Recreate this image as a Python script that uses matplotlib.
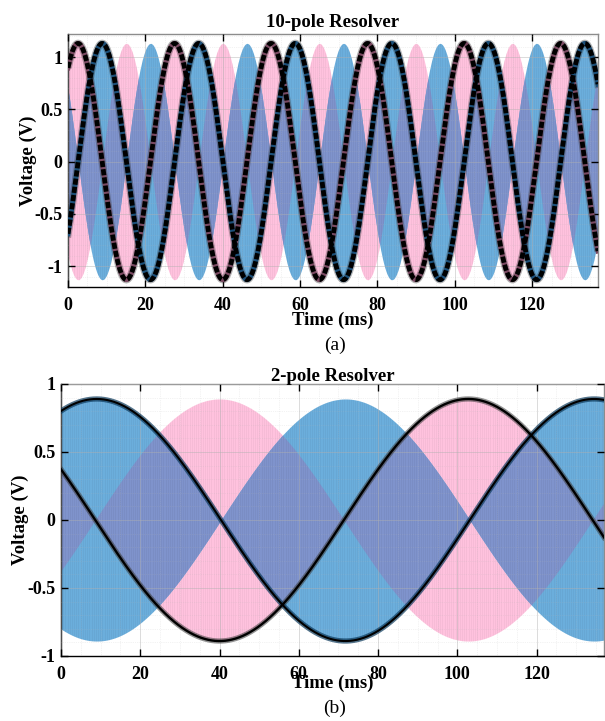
import numpy as np
import matplotlib
matplotlib.use("Agg")
import matplotlib.pyplot as plt
from matplotlib.ticker import MultipleLocator

# ---------------- data ----------------
# envelope model parameters (amplitude V, electrical period ms, time of positive peak ms)
top_title = "10-pole Resolver"
top_amp = 1.13
top_period = 24.95
top_sin_peak = 2.6      # pink (sin) envelope positive peak
top_cos_peak = 8.85     # blue (cos) envelope positive peak

bot_title = "2-pole Resolver"
bot_amp = 0.89
bot_period = 125.5
bot_sin_peak = 40.0 - 125.5 / 2   # pink envelope: trough at 40 ms
bot_cos_peak = 9.0                # blue envelope: peak at 9 ms

t_max = 137.0
xticks = [0, 20, 40, 60, 80, 100, 120]
top_yticks = [-1, -0.5, 0, 0.5, 1]
top_yticklabels = ["-1", "-0.5", "0", "0.5", "1"]
bot_yticks = [-1, -0.5, 0, 0.5, 1]
bot_yticklabels = ["-1", "-0.5", "0", "0.5", "1"]
xlabel = "Time (ms)"
ylabel = "Voltage (V)"
sub_labels = ["(a)", "(b)"]

# ---------------- style ----------------
PINK = "#FFC2DE"
BLUE = "#6BAEDC"
OVER = "#7F93CC"
SERIF = ["Liberation Serif", "DejaVu Serif"]
plt.rcParams["font.family"] = SERIF

fig = plt.figure(figsize=(6.05, 7.21), dpi=100)
ax1 = fig.add_axes([68 / 605, 1 - 287 / 721, 530 / 605, 253 / 721])
ax2 = fig.add_axes([61 / 605, 1 - 656 / 721, 543 / 605, 272 / 721])

t = np.linspace(0, t_max, 6000)


def draw(ax, amp, period, p_peak, c_peak, ylim, marker_style):
    s = amp * np.cos(2 * np.pi * (t - p_peak) / period)
    c = amp * np.cos(2 * np.pi * (t - c_peak) / period)
    sa, ca = np.abs(s), np.abs(c)
    m = np.minimum(sa, ca)
    ax.fill_between(t, -sa, sa, color=PINK, lw=0, zorder=1)
    ax.fill_between(t, -ca, ca, color=BLUE, lw=0, zorder=1.1)
    ax.fill_between(t, -m, m, color=OVER, lw=0, zorder=1.2)
    # faint carrier stripes
    xs = np.arange(0, t_max, 0.55)
    sv = amp * np.abs(np.cos(2 * np.pi * (xs - p_peak) / period))
    cv = amp * np.abs(np.cos(2 * np.pi * (xs - c_peak) / period))
    mv = np.maximum(sv, cv)
    ax.vlines(xs, -mv, mv, colors="#000000", alpha=0.05, lw=0.5, zorder=1.3)
    if marker_style:
        ax.plot(t, s, color="#2a2a2a", lw=5.4, alpha=0.35, zorder=3, solid_capstyle="butt")
        ax.plot(t, s, color="#7a4a62", lw=3.6, zorder=3.1)
        ax.plot(t, s, color="black", lw=3.4, zorder=3.2, ls=(0, (1.3, 0.45)), dash_capstyle="butt")
        ax.plot(t, c, color="#2a2a2a", lw=5.4, alpha=0.35, zorder=3)
        ax.plot(t, c, color="#1c4f78", lw=3.6, zorder=3.1)
        ax.plot(t, c, color="black", lw=3.4, zorder=3.2, ls=(0, (1.3, 0.45)), dash_capstyle="butt")
    else:
        ax.plot(t, s, color="#3a3a3a", lw=3.8, alpha=0.55, zorder=3)
        ax.plot(t, s, color="black", lw=1.7, zorder=3.2)
        ax.plot(t, c, color="#0d3a5c", lw=3.8, alpha=0.7, zorder=3)
        ax.plot(t, c, color="black", lw=1.5, zorder=3.2)
    ax.set_xlim(0, t_max)
    ax.set_ylim(*ylim)


draw(ax1, top_amp, top_period, top_sin_peak, top_cos_peak, (-1.2, 1.22), True)
draw(ax2, bot_amp, bot_period, bot_sin_peak, bot_cos_peak, (-1.0, 1.0), False)

for ax, yt, ytl, title, tpad in [(ax1, top_yticks, top_yticklabels, top_title, 5),
                                 (ax2, bot_yticks, bot_yticklabels, bot_title, 2)]:
    ax.set_xticks(xticks)
    ax.set_xticklabels([str(v) for v in xticks])
    ax.set_yticks(yt)
    ax.set_yticklabels(ytl)
    ax.xaxis.set_minor_locator(MultipleLocator(5))
    ax.yaxis.set_minor_locator(MultipleLocator(0.1))
    ax.tick_params(which="major", direction="in", length=5, width=1.0,
                   top=True, right=True, labelsize=13)
    ax.tick_params(axis="x", which="major", pad=7)
    ax.tick_params(axis="y", which="major", pad=4)
    ax.tick_params(which="minor", length=0)
    for lab in ax.get_xticklabels() + ax.get_yticklabels():
        lab.set_fontweight("bold")
    ax.grid(which="major", color="#b0b0b0", lw=0.7, alpha=0.45, zorder=5)
    ax.grid(which="minor", color="#b8b8b8", lw=0.5, ls=":", alpha=0.35, zorder=5)
    ax.set_axisbelow(False)
    for sp in ["left", "bottom"]:
        ax.spines[sp].set_color("black")
        ax.spines[sp].set_linewidth(1.0)
    for sp in ["top", "right"]:
        ax.spines[sp].set_color("#8c8c8c")
        ax.spines[sp].set_linewidth(1.0)
    ax.set_title(title, fontsize=13.5, fontweight="bold", pad=tpad)
    ax.set_ylabel(ylabel, fontsize=13.5, fontweight="bold", va="center")
    ax.set_xlabel(xlabel, fontsize=13.5, fontweight="bold", va="center")

# y label centres: x = 28 px (top) and 20 px (bottom) from the figure's left edge
ax1.yaxis.set_label_coords(-(68 - 28) / 530, 0.5)
ax2.yaxis.set_label_coords(-(61 - 20) / 543, 0.5)
# x label centres: top at 320 px, bottom at 683 px (figure pixels from top)
ax1.xaxis.set_label_coords(0.5, -(320 - 287) / 253)
ax2.xaxis.set_label_coords(0.5, -(683 - 656) / 272)
fig.text(335 / 605, 1 - 345 / 721, sub_labels[0], ha="center", va="center", fontsize=14)
fig.text(335 / 605, 1 - 708 / 721, sub_labels[1], ha="center", va="center", fontsize=14)

fig.savefig("out.png", dpi=100)
